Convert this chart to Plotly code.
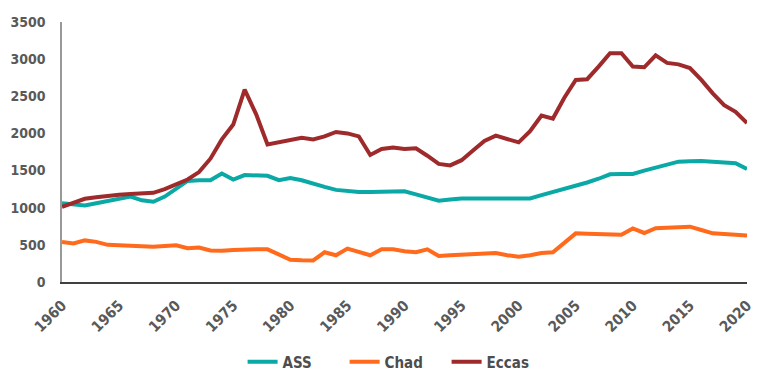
import plotly.graph_objects as go

years = list(range(1960, 2021))

ass = [1060, 1040, 1030, 1060, 1090, 1130, 1150, 1100, 1080, 1150,
       1260, 1360, 1370, 1370, 1460, 1380, 1440, 1440, 1430, 1370,
       1400, 1370, 1320, 1280, 1240, 1220, 1210, 1210, 1210, 1215,
       1220, 1180, 1140, 1095, 1110, 1125, 1125, 1125, 1125, 1125,
       1125, 1125, 1170, 1210, 1250, 1300, 1340, 1390, 1450, 1455,
       1455, 1500, 1540, 1580, 1620, 1625, 1630, 1620, 1610, 1600,
       1520]

chad = [540, 520, 560, 540, 500, 490, 485, 480, 475, 485,
        495, 455, 465, 425, 420, 430, 440, 440, 440, 370,
        300, 292, 290, 400, 360, 450, 400, 360, 440, 440,
        415, 400, 440, 350, 360, 370, 380, 390, 390, 360,
        340, 360, 390, 400, 530, 655, 650, 645, 640, 635,
        720, 660, 725, 730, 735, 745, 700, 655, 645, 635,
        625]

eccas = [1010, 1060, 1120, 1140, 1160, 1175, 1185, 1195, 1200, 1250,
         1310, 1380, 1480, 1660, 1920, 2120, 2590, 2260, 1850, 1880,
         1920, 1940, 1920, 1960, 2020, 2000, 1960, 1710, 1790, 1810,
         1790, 1800, 1700, 1590, 1570, 1640, 1770, 1900, 1970, 1920,
         1880, 2030, 2240, 2200, 2480, 2720, 2730, 2900, 3080, 3080,
         2900, 2890, 3050, 2950, 2930, 2880, 2720, 2540, 2380, 2290,
         2140]

series = [("ASS", ass, "#0AA9A5"), ("Chad", chad, "#FF6A1C"), ("Eccas", eccas, "#9E2A2B")]

font_family = "DejaVu Sans Condensed, Roboto, sans-serif"

fig = go.Figure()
for name, vals, color in series:
    fig.add_trace(go.Scatter(x=years, y=vals, name=name, mode="lines",
                             line=dict(color=color, width=4)))

fig.update_layout(
    width=768, height=382,
    margin=dict(l=54, r=29, t=14, b=108),
    paper_bgcolor="white", plot_bgcolor="white",
    font=dict(family=font_family, size=14, color="#595959"),
    showlegend=True,
    legend=dict(orientation="h", x=0.487, xanchor="center", y=-0.308, yanchor="middle",
                font=dict(family=font_family, size=15, color="#4d4d4d", weight="bold"),
                entrywidth=57, entrywidthmode="pixels", traceorder="normal"),
)
fig.update_xaxes(range=[1960, 2020], tickmode="array", tickvals=list(range(1960, 2021, 5)),
                 tickangle=-45, showgrid=False, zeroline=False, automargin=False,
                 showline=True, linecolor="#404040", linewidth=1.5, ticks="",
                 ticklabelstandoff=7,
                 tickfont=dict(family=font_family, size=15, color="#595959", weight="bold"))
fig.update_yaxes(range=[0, 3500], tickvals=list(range(0, 3501, 500)), automargin=False,
                 showgrid=False, zeroline=False, showline=True, linecolor="#999999",
                 linewidth=1.5, ticks="", ticklabelstandoff=12,
                 tickfont=dict(family=font_family, size=14, color="#595959", weight="bold"))

fig.write_html("out.html")
